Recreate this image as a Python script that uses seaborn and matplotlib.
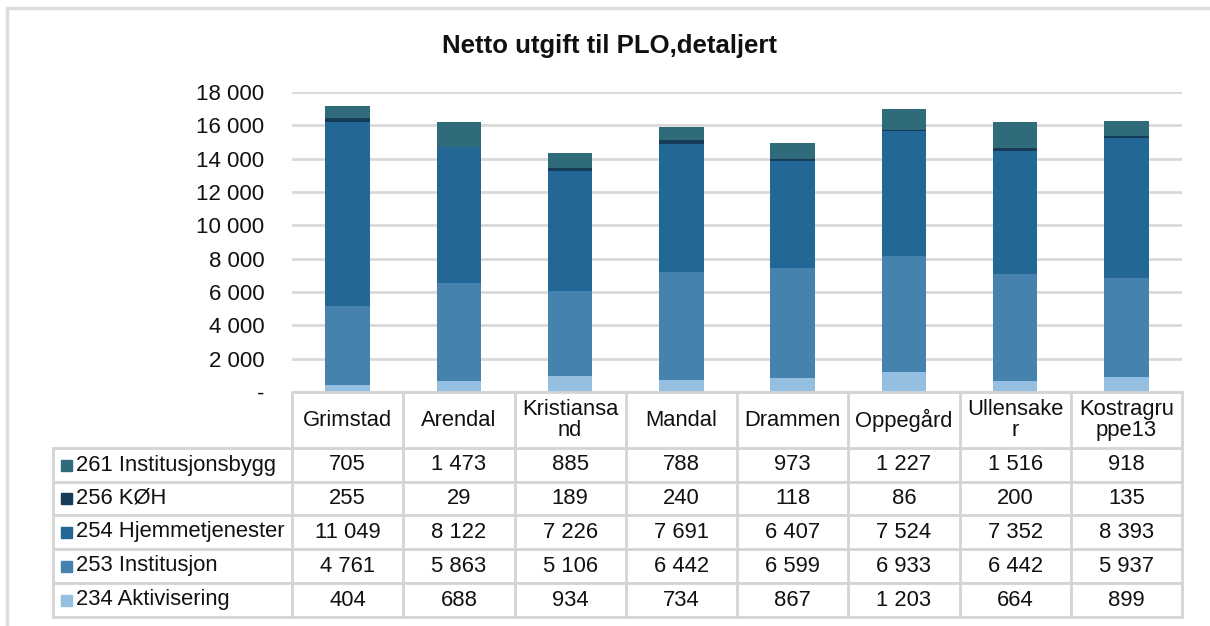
import matplotlib
matplotlib.use("Agg")
import matplotlib.pyplot as plt
import seaborn as sns
import pandas as pd
import numpy as np
from matplotlib.lines import Line2D
from matplotlib.patches import Rectangle

sns.set_theme(style="white")
plt.rcParams['font.family'] = ['Liberation Sans', 'DejaVu Sans']

# ---- data ----
categories = ["Grimstad", "Arendal", "Kristiansand", "Mandal", "Drammen",
              "Oppegård", "Ullensaker", "Kostragruppe13"]
header_labels = ["Grimstad", "Arendal", "Kristiansa\nnd", "Mandal", "Drammen",
                 "Oppegård", "Ullensake\nr", "Kostragru\nppe13"]
series_names = ["234 Aktivisering", "253 Institusjon", "254 Hjemmetjenester",
                "256 KØH", "261 Institusjonsbygg"]
aktivisering = [404, 688, 934, 734, 867, 1203, 664, 899]
institusjon = [4761, 5863, 5106, 6442, 6599, 6933, 6442, 5937]
hjemmetjenester = [11049, 8122, 7226, 7691, 6407, 7524, 7352, 8393]
koh = [255, 29, 189, 240, 118, 86, 200, 135]
institusjonsbygg = [705, 1473, 885, 788, 973, 1227, 1516, 918]
yticks = [0, 2000, 4000, 6000, 8000, 10000, 12000, 14000, 16000, 18000]

series_values = [aktivisering, institusjon, hjemmetjenester, koh, institusjonsbygg]
colors = ["#95bfe1", "#4682ae", "#226796", "#163c5a", "#2f6b7b"]

W, H = 1210, 626
fig = plt.figure(figsize=(W / 100, H / 100), dpi=100)

def fx(px):
    return px / W

def fy(py):
    return 1 - py / H

x_left, x_right = 292, 1182
y_top, y_bot = 92, 392
ax = fig.add_axes([fx(x_left), fy(y_bot), fx(x_right) - fx(x_left), fy(y_top) - fy(y_bot)])

df = pd.DataFrame({"cat": categories})
bottom = np.zeros(len(categories))
for name, vals, col in zip(series_names, series_values, colors):
    d = df.copy()
    d["val"] = vals
    sns.barplot(data=d, x="cat", y="val", color=col, bottom=bottom, width=0.4,
                ax=ax, zorder=3, saturation=1, linewidth=0)
    bottom = bottom + np.array(vals)

ax.set_xlim(-0.5, len(categories) - 0.5)
ax.set_ylim(0, 18000)
ax.set_yticks(yticks)
ax.set_yticklabels(["-" if v == 0 else f"{v:,}".replace(",", " ") for v in yticks],
                   fontsize=16, color="#111111")
ax.tick_params(axis="y", length=0, pad=20)
ax.set_xticks([])
ax.set_xlabel("")
ax.set_ylabel("")
for s in ax.spines.values():
    s.set_visible(False)
ax.yaxis.grid(True, color="#d9d9d9", linewidth=2, zorder=0)
ax.set_axisbelow(True)

# title
fig.text(fx(610), fy(46), "Netto utgift til PLO,detaljert", ha="center", va="center",
         fontsize=18.5, fontweight="bold", color="#111111")

# outer frame
grey = "#d4d4d4"
fig.add_artist(Line2D([fx(7), fx(1215)], [fy(8), fy(8)], color="#dddddd", lw=2.5))
fig.add_artist(Line2D([fx(7), fx(7)], [fy(8), fy(630)], color="#dddddd", lw=2.5))

# data table
col_w = (x_right - x_left) / len(categories)
leg_left = 53
row_edges = [448, 482, 515, 549, 583, 617]
fs = 15.8
# horizontal lines
fig.add_artist(Line2D([fx(x_left), fx(x_right)], [fy(y_bot), fy(y_bot)], color=grey, lw=2))
for ry in row_edges:
    fig.add_artist(Line2D([fx(leg_left), fx(x_right)], [fy(ry), fy(ry)], color=grey, lw=2))
# vertical lines
for k in range(len(categories) + 1):
    xx = x_left + k * col_w
    fig.add_artist(Line2D([fx(xx), fx(xx)], [fy(y_bot), fy(row_edges[-1])], color=grey, lw=2))
fig.add_artist(Line2D([fx(leg_left), fx(leg_left)], [fy(row_edges[0]), fy(row_edges[-1])],
                      color=grey, lw=2))

# header labels
for k, lab in enumerate(header_labels):
    cx = x_left + (k + 0.5) * col_w
    fig.text(fx(cx), fy((y_bot + row_edges[0]) / 2), lab, ha="center", va="center",
             fontsize=fs, color="#111111", linespacing=1.05)

# rows (top row = last series)
fmt = lambda v: f"{v:,}".replace(",", " ")
for r, idx in enumerate(range(len(series_names) - 1, -1, -1)):
    cy = (row_edges[r] + row_edges[r + 1]) / 2
    fig.add_artist(Rectangle((fx(61), fy(cy + 5.5)), fx(11), fy(cy - 5.5) - fy(cy + 5.5),
                             color=colors[idx], transform=fig.transFigure))
    fig.text(fx(76), fy(cy), series_names[idx], ha="left", va="center",
             fontsize=fs, color="#111111")
    for k, v in enumerate(series_values[idx]):
        cx = x_left + (k + 0.5) * col_w
        fig.text(fx(cx), fy(cy), fmt(v), ha="center", va="center",
                 fontsize=fs, color="#111111")

fig.savefig("out.png", dpi=100)
